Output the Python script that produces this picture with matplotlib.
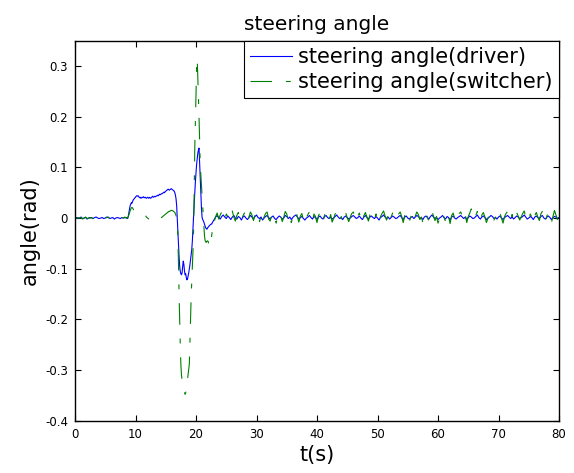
import numpy as np
import matplotlib
matplotlib.use("Agg")
import matplotlib.pyplot as plt

plt.rcParams["font.family"] = ["DejaVu Sans"]
plt.rcParams["axes.unicode_minus"] = False
plt.rcParams["lines.scale_dashes"] = False

# ---- data (angles in milliradians) ----
# quiet lead-in, 0 .. 8.25 s, every 0.25 s
driver_pre = [0, 1, -1, 0, 2, -1, 0, 1, -2, 0, 1, 0, -1, 1, 2, 0, -1,
              0, 1, -1, 0, 2, 1, -1, 0, 1, -2, 0, 1, 0, -1, 1, 0, 1]
switcher_pre = [0, -1, 1, 0, 1, -2, 0, 2, -1, 0, 0, 1, -1, 0, 2, 1, -1,
                0, 1, -2, 0, 1, 2, -1, 0, 1, -1, 0, 2, 0, -1, 1, 0, 2]

# manoeuvre, 8.5 .. 22.9 s, every 0.1 s
driver_event = [
    0, 1, -1, 3, 10, 18, 24, 27, 30, 29,
    32, 35, 37, 38, 40, 41, 43, 44, 43, 44,
    43, 41, 40, 41, 39, 40, 41, 40, 42, 41,
    40, 41, 40, 39, 40, 41, 40, 39, 41, 40,
    39, 40, 41, 43, 42, 41, 42, 43, 42, 43,
    44, 44, 45, 44, 46, 47, 46, 47, 48, 48,
    49, 50, 51, 50, 52, 53, 54, 55, 56, 57,
    56, 55, 56, 57, 58, 57, 56, 55, 54, 53,
    50, 45, 38, 25, 0, -25, -50, -75, -95, -105,
    -110, -112, -108, -95, -85, -92, -105, -112, -110, -118,
    -122, -120, -114, -108, -100, -92, -82, -72, -62, -45,
    -22, 0, 28, 52, 72, 90, 106, 118, 128, 134,
    138, 110, 80, 50, 20, 2, -3, -5, -8, -12,
    -16, -19, -21, -22, -20, -18, -17, -15, -14, -13,
    -12, -12, -9, -7, -5]
switcher_event = [
    0, 1, 0, 3, 6, 10, 14, 17, 20, 21,
    20, 18, 16, 15, 14, 13, 12, 12, 11, 11,
    10, 10, 10, 9, 9, 9, 9, 8, 8, 7,
    6, 5, 4, 2, 1, 0, -1, -2, -3, -3,
    -4, -4, -5, -5, -5, -6, -6, -6, -6, -6,
    -6, -5, -5, -4, -3, -2, -1, 0, 1, 2,
    3, 4, 5, 6, 7, 8, 9, 10, 11, 12,
    13, 13, 14, 14, 15, 15, 15, 14, 13, 12,
    11, 8, 5, 1, -5, -40, -85, -150, -200, -250,
    -290, -310, -320, -330, -335, -340, -345, -348, -345, -338,
    -328, -318, -308, -298, -288, -245, -195, -155, -125, -95,
    -65, -25, 50, 140, 195, 245, 295, 315, 280, 240,
    200, 150, 105, 85, 62, 42, 22, 2, -18, -35,
    -44, -47, -48, -46, -45, -46, -50, -55, -57, -52,
    -44, -34, -24, -14, -6]

# settled tracking, 23 .. 80 s, every 0.25 s
driver_post = [
    -3, 2, 5, 1, -2, 3, 6, 2, -1, 4, 1, -3, 2, 5, 0, -2, 3, 1, -4, 2,
    4, 0, -3, 1, 5, 2, -2, 3, 6, 1, -1, 2, -4, 0, 3, 5, 1, -2, 2, 4,
    -1, -3, 1, 4, 2, -2, 0, 5, 3, -1, 2, -3, 1, 4, 6, 2, -2, 1, 3, -1,
    -4, 0, 2, 5, 1, -2, 3, 1, -3, 2, 4, 0, -2, 3, 5, 1, -1, 2, -2, 0,
    3, 6, 2, -1, 1, -3, 2, 4, 1, -2, 0, 3, 5, 2, -1, 1, 4, 0, -3, 2,
    5, 1, -2, 2, 4, 1, -1, 3, 0, -4, 1, 3, 6, 2, -1, 2, -2, 1, 4, 2,
    -1, 0, 3, 5, 1, -3, 2, 4, 0, -2, 1, 3, -1, 2, 5, 3, -1, 1, -3, 2,
    4, 1, -2, 3, 6, 2, -1, 1, -3, 0, 2, 5, 1, -2, 3, 1, -4, 2, 4, 0,
    -2, 1, 3, 5, 2, -1, 2, -3, 1, 4, 2, -1, 0, 3, 6, 1, -2, 2, 4, 1,
    -3, 0, 2, 5, 3, -1, 1, -2, 2, 4, 0, -3, 1, 3, 5, 2, -1, 2, -2, 1,
    4, 2, -1, 1, 3, 6, 2, -2, 0, 3, 1, -3, 2, 4, 1, -1, 3, 5, 0, -2,
    2, 4, 1, -3, 1, 3, 2, -1, 1]
switcher_post = [
    -8, 3, 10, -2, 6, 12, 1, -5, 8, 3, -4, 9, 14, 2, -6, 5, 11, -1, -8, 4,
    10, -3, -9, 2, 12, 6, -5, 7, 13, 0, -7, 4, -10, 2, 9, 12, -2, -6, 5, 11,
    -3, -10, 3, 11, 6, -7, 1, 13, 8, -4, 6, -9, 2, 10, 15, 3, -8, 4, 9, -5,
    -11, 1, 7, 12, 2, -6, 8, 3, -9, 5, 11, -2, -7, 6, 12, 1, -5, 7, -8, -1,
    8, 13, 4, -5, 3, -9, 6, 10, 0, -7, 2, 9, 12, 3, -6, 4, 10, -2, -10, 5,
    11, 2, -6, 6, 10, 1, -5, 8, -2, -11, 3, 9, 14, 4, -4, 6, -8, 2, 10, 5,
    -4, -1, 8, 12, 3, -9, 5, 11, -1, -7, 2, 9, -5, 4, 12, 7, -3, 2, -9, 6,
    10, 2, -7, 8, 13, 4, -5, 3, -10, -2, 6, 12, 1, -7, 9, 3, -11, 5, 10, -1,
    -8, 2, 9, 12, 4, -4, 7, -9, 3, 10, 18, 6, -2, 5, 13, 2, -6, 6, 11, 2,
    -9, -1, 6, 12, 7, -4, 2, -7, 5, 10, -1, -10, 3, 9, 13, 5, -5, 7, -6, 2,
    11, 4, -4, 2, 9, 14, 3, -7, -1, 8, 2, -9, 5, 11, 2, -5, 8, 13, -2, -8,
    4, 11, 2, -9, 3, 15, 6, -4, 0]

x_ticks = [0, 10, 20, 30, 40, 50, 60, 70, 80]
y_ticks = [-0.4, -0.3, -0.2, -0.1, 0, 0.1, 0.2, 0.3]
y_tick_labels = ["-0.4", "-0.3", "-0.2", "-0.1", "0", "0.1", "0.2", "0.3"]


def build(pre, event, post):
    t = np.concatenate([
        0.0 + 0.25 * np.arange(len(pre)),
        8.5 + 0.1 * np.arange(len(event)),
        23.0 + 0.25 * np.arange(len(post)),
    ])
    v = np.concatenate([pre, event, post]) / 1000.0
    return t, v


t_drv, a_drv = build(driver_pre, driver_event, driver_post)
t_sw, a_sw = build(switcher_pre, switcher_event, switcher_post)

fig = plt.figure(figsize=(5.74, 4.73), dpi=100)
ax = fig.add_axes([75 / 574, 1 - 420.7 / 473, 484 / 574, 380 / 473])

ax.plot(t_drv, a_drv, color="#0000ff", lw=0.8,
        label="steering angle(driver)")
ax.plot(t_sw, a_sw, color="#008000", lw=0.8,
        linestyle=(0, (15.5, 10, 3.5, 10)),
        label="steering angle(switcher)")

ax.set_xlim(0, 80)
ax.set_ylim(-0.4, 0.35)
ax.set_xticks(x_ticks)
ax.set_xticklabels([str(v) for v in x_ticks])
ax.set_yticks(y_ticks)
ax.set_yticklabels(y_tick_labels)
ax.tick_params(direction="in", length=4, width=0.8, top=True, right=True,
               labelsize=8.5, pad=5)
for s in ax.spines.values():
    s.set_linewidth(1.0)
    s.set_color("black")

ax.set_title("steering angle", fontsize=14.5, pad=8)
ax.set_xlabel("t(s)", fontsize=15, labelpad=3)
ax.set_ylabel("angle(rad)", fontsize=15, labelpad=4)

leg = ax.legend(loc="upper right", fontsize=15, frameon=True, fancybox=False,
                borderaxespad=0, borderpad=0.3, labelspacing=0.25,
                handlelength=2.0, handletextpad=0.3, framealpha=1)
leg.get_frame().set_edgecolor("black")
leg.get_frame().set_linewidth(0.8)

fig.savefig("out.png", dpi=100, facecolor="white")
